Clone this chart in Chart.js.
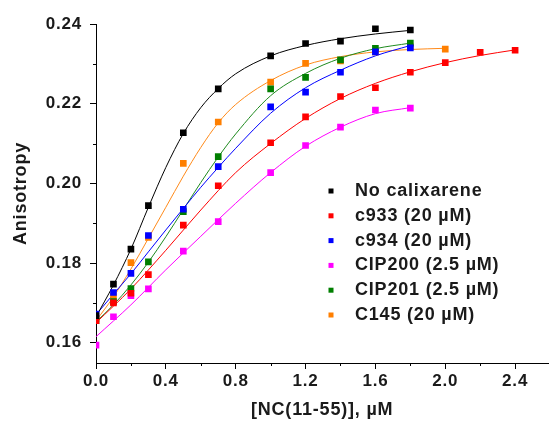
<!DOCTYPE html>
<html>
<head>
<meta charset="utf-8">
<script src="https://cdn.jsdelivr.net/npm/chart.js@4/dist/chart.umd.min.js"></script>
<style>
  body { margin: 0; background: #fff; }
  canvas { display: block; }
</style>
</head>
<body>
<canvas id="myChart" width="553" height="424"></canvas>
<script>
// Measured points
var xShort = [0, 0.1, 0.2, 0.3, 0.5, 0.7, 1.0, 1.2, 1.4, 1.6, 1.8];
var xOrange = [0, 0.1, 0.2, 0.3, 0.5, 0.7, 1.0, 1.2, 1.4, 1.6, 1.8, 2.0];
var xRed = [0, 0.1, 0.2, 0.3, 0.5, 0.7, 1.0, 1.2, 1.4, 1.6, 1.8, 2.0, 2.2, 2.4];

var noCalix = [0.1668, 0.1747, 0.1835, 0.1944, 0.2127, 0.2237, 0.2320, 0.2351, 0.2357, 0.2388, 0.2385];
var c933 = [0.1655, 0.1700, 0.1724, 0.1771, 0.1895, 0.1994, 0.2102, 0.2167, 0.2218, 0.2240, 0.2279, 0.2303, 0.2329, 0.2334];
var c934 = [0.1672, 0.1726, 0.1774, 0.1869, 0.1935, 0.2042, 0.2192, 0.2229, 0.2279, 0.2330, 0.2340];
var cip200 = [0.1594, 0.1665, 0.1718, 0.1735, 0.1830, 0.1904, 0.2027, 0.2095, 0.2141, 0.2184, 0.2189];
var cip201 = [0.1655, 0.1703, 0.1736, 0.1803, 0.1929, 0.2067, 0.2237, 0.2266, 0.2310, 0.2339, 0.2352];
var c145 = [0.1661, 0.1716, 0.1801, 0.1864, 0.2050, 0.2154, 0.2254, 0.2301, 0.2307, 0.2330, 0.2343, 0.2337];

// Fitted curves
var fitX = [0, 0.1, 0.2, 0.3, 0.4, 0.5, 0.6, 0.7, 0.8, 1.0, 1.2, 1.4, 1.6, 1.8];
var fitXOrange = [0, 0.1, 0.2, 0.3, 0.4, 0.5, 0.6, 0.7, 0.8, 1.0, 1.2, 1.4, 1.6, 1.8, 2.0];
var fitXRed = [0, 0.2, 0.4, 0.6, 0.8, 1.0, 1.2, 1.4, 1.6, 1.8, 2.0, 2.2, 2.4];
var fitXPink = [0, 0.2, 0.4, 0.6, 0.8, 1.0, 1.2, 1.4, 1.6, 1.8];

var fitNoCalix = [0.1665, 0.1745, 0.1835, 0.1940, 0.2040, 0.2125, 0.2190, 0.2238, 0.2275, 0.2320, 0.2346, 0.2363, 0.2375, 0.2384];
var fitC145 = [0.1655, 0.1715, 0.1785, 0.1862, 0.1940, 0.2018, 0.2090, 0.2152, 0.2198, 0.2258, 0.2297, 0.2318, 0.2330, 0.2336, 0.2339];
var fitCip201 = [0.1652, 0.1695, 0.1745, 0.1802, 0.1866, 0.1934, 0.2002, 0.2066, 0.2124, 0.2220, 0.2276, 0.2314, 0.2338, 0.2352];
var fitC934 = [0.1670, 0.1722, 0.1773, 0.1828, 0.1883, 0.1937, 0.1990, 0.2040, 0.2088, 0.2176, 0.2240, 0.2284, 0.2320, 0.2346];
var fitC933 = [0.1650, 0.1735, 0.1832, 0.1933, 0.2027, 0.2100, 0.2163, 0.2213, 0.2251, 0.2280, 0.2303, 0.2321, 0.2335];
var fitCip200 = [0.1615, 0.1695, 0.1783, 0.1867, 0.1950, 0.2027, 0.2093, 0.2141, 0.2175, 0.2190];

var legendLabels = ["No calixarene", "c933 (20 \u00B5M)", "c934 (20 \u00B5M)", "CIP200 (2.5 \u00B5M)", "CIP201 (2.5 \u00B5M)", "C145 (20 \u00B5M)"];
var colors = ["#000000", "#ff0000", "#0000ff", "#ff00ff", "#007f00", "#ff7f00"];

var xTicks = [0, 0.4, 0.8, 1.2, 1.6, 2.0, 2.4];
var xMinor = [0.2, 0.6, 1.0, 1.4, 1.8, 2.2];
var yTicks = [0.16, 0.18, 0.20, 0.22, 0.24];
var yMinor = [0.17, 0.19, 0.21, 0.23];

function pairs(xs, ys) {
    return xs.map(function(x, i) { return {x: x, y: ys[i]}; });
}

function points(xs, ys, color) {
    return {
        data: pairs(xs, ys),
        showLine: false,
        pointStyle: "rect",
        pointRadius: 4.7,
        pointHoverRadius: 4.7,
        backgroundColor: color,
        borderWidth: 0,
        order: 0
    };
}

function fit(xs, ys, color) {
    return {
        data: pairs(xs, ys),
        showLine: true,
        pointRadius: 0,
        borderColor: color,
        borderWidth: 1,
        cubicInterpolationMode: "monotone",
        order: 1
    };
}

var spacingPlugin = {
    id: "spacing",
    beforeDraw: function(chart) {
        chart.ctx.letterSpacing = "0.8px";
    }
};

var minorTicksPlugin = {
    id: "minorTicks",
    afterDraw: function(chart) {
        var ctx = chart.ctx;
        var xs = chart.scales.x, ys = chart.scales.y;
        ctx.save();
        ctx.strokeStyle = "#000";
        ctx.lineWidth = 1;
        ctx.beginPath();
        xMinor.forEach(function(v) {
            var px = Math.round(xs.getPixelForValue(v)) + 0.5;
            ctx.moveTo(px, ys.bottom);
            ctx.lineTo(px, ys.bottom + 3);
        });
        yMinor.forEach(function(v) {
            var py = Math.round(ys.getPixelForValue(v)) + 0.5;
            ctx.moveTo(xs.left, py);
            ctx.lineTo(xs.left - 3, py);
        });
        ctx.stroke();
        ctx.restore();
    }
};

var legendPlugin = {
    id: "sideLegend",
    afterDraw: function(chart) {
        var ctx = chart.ctx;
        ctx.save();
        ctx.letterSpacing = "0.8px";
        ctx.font = "bold 18px 'Liberation Sans', Arial, sans-serif";
        ctx.textBaseline = "middle";
        ctx.textAlign = "left";
        for (var i = 0; i < legendLabels.length; i++) {
            var y = 191 + i * 24.8;
            ctx.fillStyle = colors[i];
            ctx.fillRect(328.5, y - 2.5, 5, 5);
            ctx.fillStyle = "#1a1a1a";
            ctx.fillText(legendLabels[i], 355, y);
        }
        ctx.restore();
    }
};

var ctx = document.getElementById("myChart");
var myChart = new Chart(ctx, {
    type: "scatter",
    data: {
        datasets: [
            points(xShort, noCalix, colors[0]),
            points(xRed, c933, colors[1]),
            points(xShort, c934, colors[2]),
            points(xShort, cip200, colors[3]),
            points(xShort, cip201, colors[4]),
            points(xOrange, c145, colors[5]),
            fit(fitX, fitNoCalix, colors[0]),
            fit(fitXRed, fitC933, colors[1]),
            fit(fitX, fitC934, colors[2]),
            fit(fitXPink, fitCip200, colors[3]),
            fit(fitX, fitCip201, "#1f8a1f"),
            fit(fitXOrange, fitC145, "#ff8a1a")
        ]
    },
    options: {
        responsive: false,
        animation: false,
        layout: { padding: { top: 24, right: 0, left: 0, bottom: 0 } },
        plugins: {
            legend: { display: false },
            tooltip: { enabled: false }
        },
        scales: {
            x: {
                type: "linear",
                min: 0,
                max: 2.59,
                afterFit: function(scale) { scale.height = 61; },
                afterBuildTicks: function(scale) {
                    scale.ticks = xTicks.map(function(v) { return {value: v}; });
                },
                grid: { drawOnChartArea: false, drawTicks: true, tickLength: 6, color: "#000" },
                border: { display: true, color: "#000", width: 1 },
                ticks: {
                    padding: 2,
                    color: "#1a1a1a",
                    font: { family: "'Liberation Sans', Arial, sans-serif", size: 17, weight: "bold" },
                    maxRotation: 0,
                    callback: function(v) { return v.toFixed(1); }
                },
                title: {
                    display: true,
                    text: "[NC(11-55)], \u00B5M",
                    color: "#1a1a1a",
                    padding: { top: 0, bottom: 3 },
                    font: { family: "'Liberation Sans', Arial, sans-serif", size: 18, weight: "bold" }
                }
            },
            y: {
                min: 0.1549,
                max: 0.24,
                afterFit: function(scale) { scale.width = 96; },
                afterBuildTicks: function(scale) {
                    scale.ticks = yTicks.map(function(v) { return {value: v}; });
                },
                grid: { drawOnChartArea: false, drawTicks: true, tickLength: 6, color: "#000" },
                border: { display: true, color: "#000", width: 1 },
                ticks: {
                    padding: 8,
                    color: "#1a1a1a",
                    font: { family: "'Liberation Sans', Arial, sans-serif", size: 17, weight: "bold" },
                    callback: function(v) { return v.toFixed(2); }
                },
                title: {
                    display: true,
                    text: "Anisotropy",
                    color: "#1a1a1a",
                    padding: { top: 10, bottom: 0 },
                    font: { family: "'Liberation Sans', Arial, sans-serif", size: 18, weight: "bold" }
                }
            }
        }
    },
    plugins: [spacingPlugin, minorTicksPlugin, legendPlugin]
});
</script>
</body>
</html>
